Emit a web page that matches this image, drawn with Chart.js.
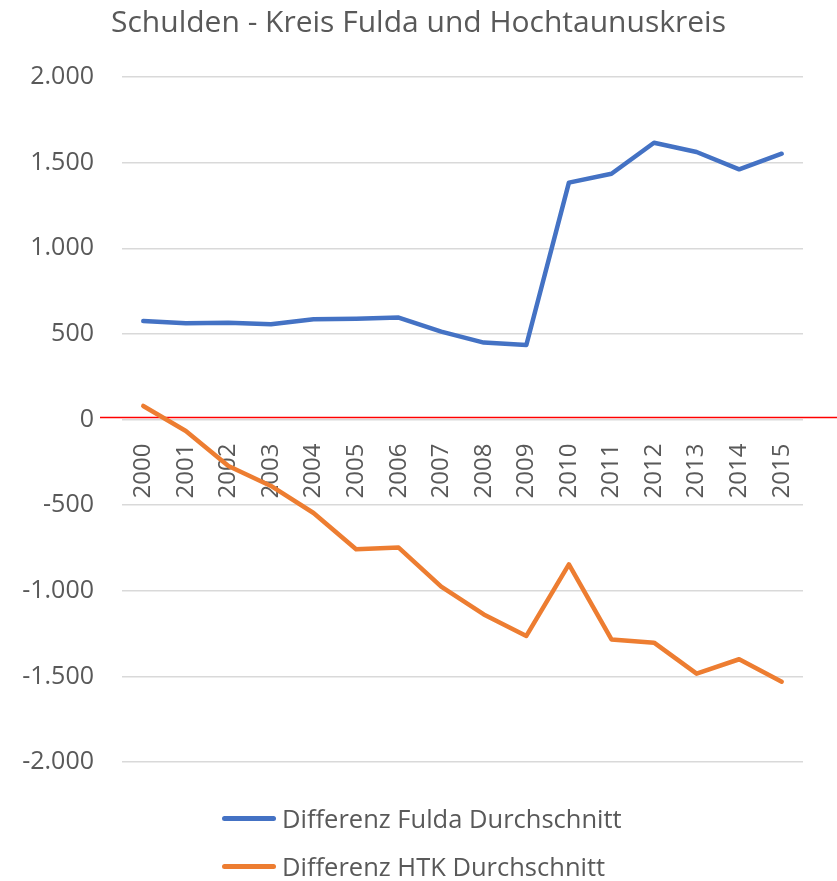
<!DOCTYPE html>
<html>
<head>
<meta charset="utf-8">
<script src="https://cdn.jsdelivr.net/npm/chart.js@4"></script>
<style>
  html, body { margin: 0; padding: 0; background: #fff; }
  #wrap { position: relative; width: 837px; height: 881px; }
  #legend { position: absolute; left: 222px; top: 799px; font-family: 'Open Sans', sans-serif; font-size: 25.5px; color: #595959; }
  .item { display: flex; align-items: center; height: 38px; margin-bottom: 10px; }
  .swatch { width: 54px; height: 5px; border-radius: 3px; margin-right: 6px; }
</style>
</head>
<body>
<div id="wrap">
  <canvas id="chart" width="837" height="881"></canvas>
  <div id="legend"></div>
</div>
<script>
const years = ['2000', '2001', '2002', '2003', '2004', '2005', '2006', '2007',
               '2008', '2009', '2010', '2011', '2012', '2013', '2014', '2015'];
const fulda = [575, 562, 565, 556, 585, 589, 595, 513, 449, 435, 1383, 1435, 1616, 1562, 1461, 1552];
const htk = [79, -67, -272, -388, -546, -758, -748, -976, -1138, -1264, -846, -1284, -1303, -1484, -1400, -1531];
const seriesNames = ['Differenz Fulda Durchschnitt', 'Differenz HTK Durchschnitt'];
const colors = ['#4472C4', '#ED7D31'];

const font = "'Open Sans', sans-serif";
const grey = '#595959';

function formatDe(v) {
    const s = String(Math.abs(v)).replace(/\B(?=(\d{3})+(?!\d))/g, '.');
    return (v < 0 ? '-' : '') + s;
}

// thin red line drawn across at zero
const zeroLine = {
    id: 'zeroLine',
    beforeDatasetsDraw(chart) {
        const y = Math.round(chart.scales.y.getPixelForValue(0)) - 2.5;
        const ctx = chart.ctx;
        ctx.save();
        ctx.strokeStyle = '#FF0000';
        ctx.lineWidth = 1.5;
        ctx.beginPath();
        ctx.moveTo(100, y);
        ctx.lineTo(chart.width, y);
        ctx.stroke();
        ctx.restore();
    }
};

const chart = new Chart(document.getElementById('chart').getContext('2d'), {
    type: 'line',
    data: {
        labels: years,
        datasets: [
            { label: seriesNames[0], data: fulda, borderColor: colors[0], backgroundColor: colors[0] },
            { label: seriesNames[1], data: htk, borderColor: colors[1], backgroundColor: colors[1] }
        ]
    },
    options: {
        responsive: false,
        animation: false,
        elements: {
            line: { borderWidth: 4.5, borderCapStyle: 'round', borderJoinStyle: 'round', tension: 0 },
            point: { radius: 0 }
        },
        layout: { padding: { left: 0, right: 0, bottom: 119, top: 0 } },
        plugins: {
            legend: { display: false },
            tooltip: { enabled: false },
            title: {
                display: true,
                text: 'Schulden - Kreis Fulda und Hochtaunuskreis',
                color: grey,
                font: { family: font, size: 30, weight: 'normal' },
                padding: { top: 5, bottom: 36 }
            }
        },
        scales: {
            x: {
                offset: true,
                position: { y: 0 },
                grid: { display: false },
                border: { display: false },
                ticks: { color: grey, font: { family: font, size: 24 }, minRotation: 90, maxRotation: 90, padding: 16 }
            },
            y: {
                min: -2000,
                max: 2000,
                grid: { color: '#D9D9D9', lineWidth: 1.5, drawTicks: false },
                border: { display: false },
                ticks: { stepSize: 500, color: grey, font: { family: font, size: 25 }, padding: 28, callback: v => formatDe(v) },
                afterFit(scale) { scale.width = 122; }
            },
            // empty right axis, only keeps a margin on the right side
            yRight: {
                position: 'right',
                min: -2000,
                max: 2000,
                grid: { display: false, drawTicks: false },
                border: { display: false },
                ticks: { display: false },
                afterFit(scale) { scale.width = 34; }
            }
        }
    },
    plugins: [zeroLine]
});

const legend = document.getElementById('legend');
seriesNames.forEach((name, i) => {
    const row = document.createElement('div');
    row.className = 'item';
    const sw = document.createElement('span');
    sw.className = 'swatch';
    sw.style.background = colors[i];
    const txt = document.createElement('span');
    txt.textContent = name;
    row.appendChild(sw);
    row.appendChild(txt);
    legend.appendChild(row);
});
</script>
</body>
</html>
